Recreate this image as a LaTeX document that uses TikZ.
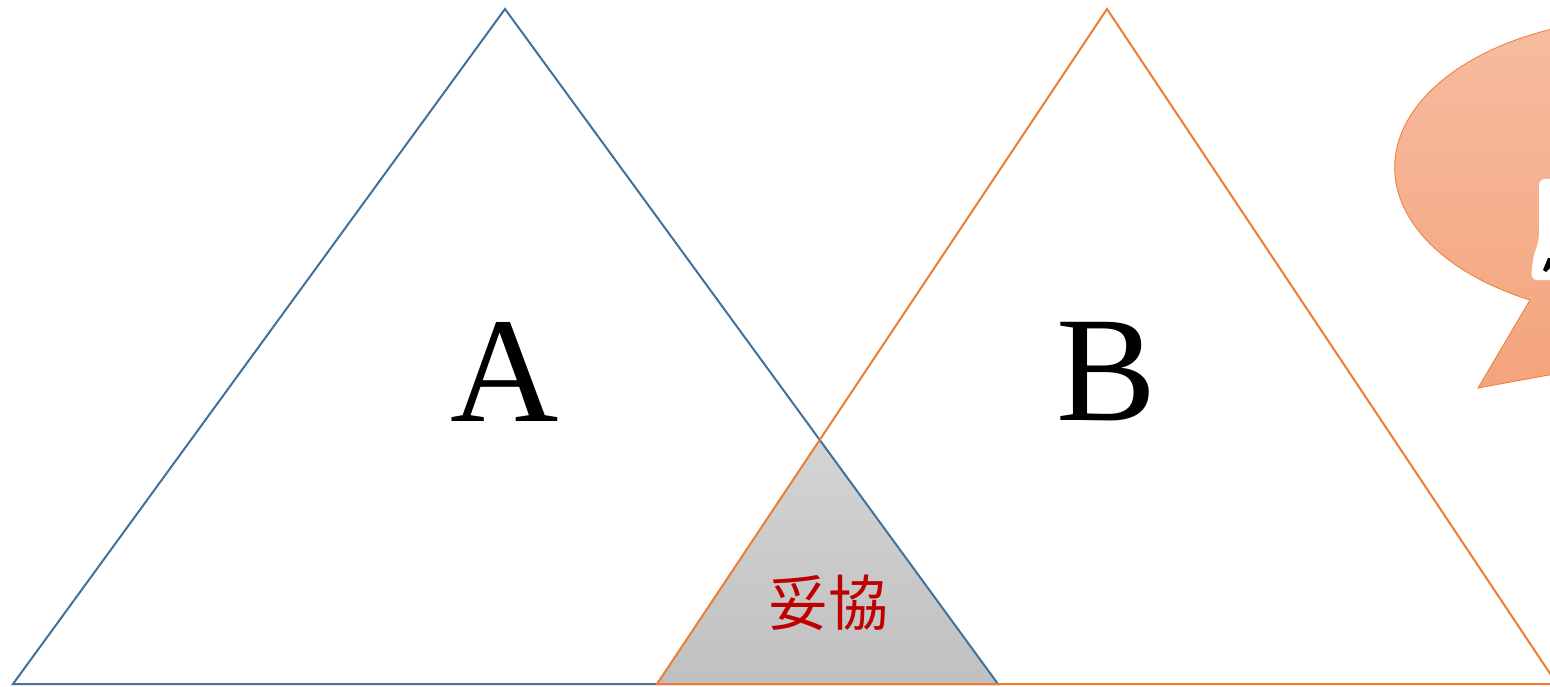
\documentclass[tikz,border=0pt]{standalone}
\usepackage{fontspec}
\setmainfont{Liberation Serif}
\newfontfamily\cjk{Noto Sans CJK JP}
\definecolor{ablue}{HTML}{41719C}
\definecolor{borange}{HTML}{ED7D31}
\definecolor{gtop}{HTML}{D4D4D4}
\definecolor{gbot}{HTML}{C0C0C0}
\definecolor{ctop}{HTML}{F6BCA0}
\definecolor{cbot}{HTML}{F4A47C}
\definecolor{txtred}{HTML}{C00000}
\tikzset{
  tri/.style={line width=2pt, line join=miter},
  bigletter/.style={font=\fontsize{150}{150}\selectfont, inner sep=0pt, anchor=center},
}
\begin{document}
\begin{tikzpicture}[x=1pt,y=-1pt]
\useasboundingbox (0,0) rectangle (1550,687);
\clip (0,0) rectangle (1550,687);
\fill[white] (0,0) rectangle (1550,687);
% overlap (compromise) triangle
\coordinate (X) at (820,440);
\coordinate (L) at (657,684);
\coordinate (R) at (998,684);
\shade[top color=gtop, bottom color=gbot, draw=gray!70, line width=0.6pt] (X) -- (L) -- (R) -- cycle;
% triangle A
\coordinate (Atop) at (505,9);
\coordinate (Al) at (13,684);
\draw[tri, ablue] (Atop) -- (Al) -- (R) -- cycle;
% triangle B
\coordinate (Btop) at (1107,9);
\coordinate (Br) at (1557,684);
\draw[tri, borange] (Btop) -- (L) -- (Br) -- cycle;
% labels
\node[bigletter] (la) at (505,372) {A};
\node[bigletter] (lb) at (1107,372) {B};
\node[font=\cjk\fontsize{60}{60}\selectfont, text=txtred, inner sep=0pt] (lc) at (828,603) {妥協};
% callout (cut off at right edge)
\coordinate (tip) at (1478,388);
\shade[top color=ctop, bottom color=cbot, draw=borange, line width=0.8pt, line join=miter]
  (tip) -- (1530,300) arc[start angle=118, end angle=300, x radius=255, y radius=150]
  -- (1620,362) -- cycle;
% glowing (cut off) text inside the callout
\fill[white, rounded corners=6pt] (1539,179) -- (1560,179) -- (1560,280) -- (1531,280) -- (1533,258) -- (1539,240) -- cycle;
\fill[black] (1543,270) -- (1548,258) -- (1551,258) -- (1551,267) -- (1546,272) -- cycle;
\end{tikzpicture}
\end{document}
